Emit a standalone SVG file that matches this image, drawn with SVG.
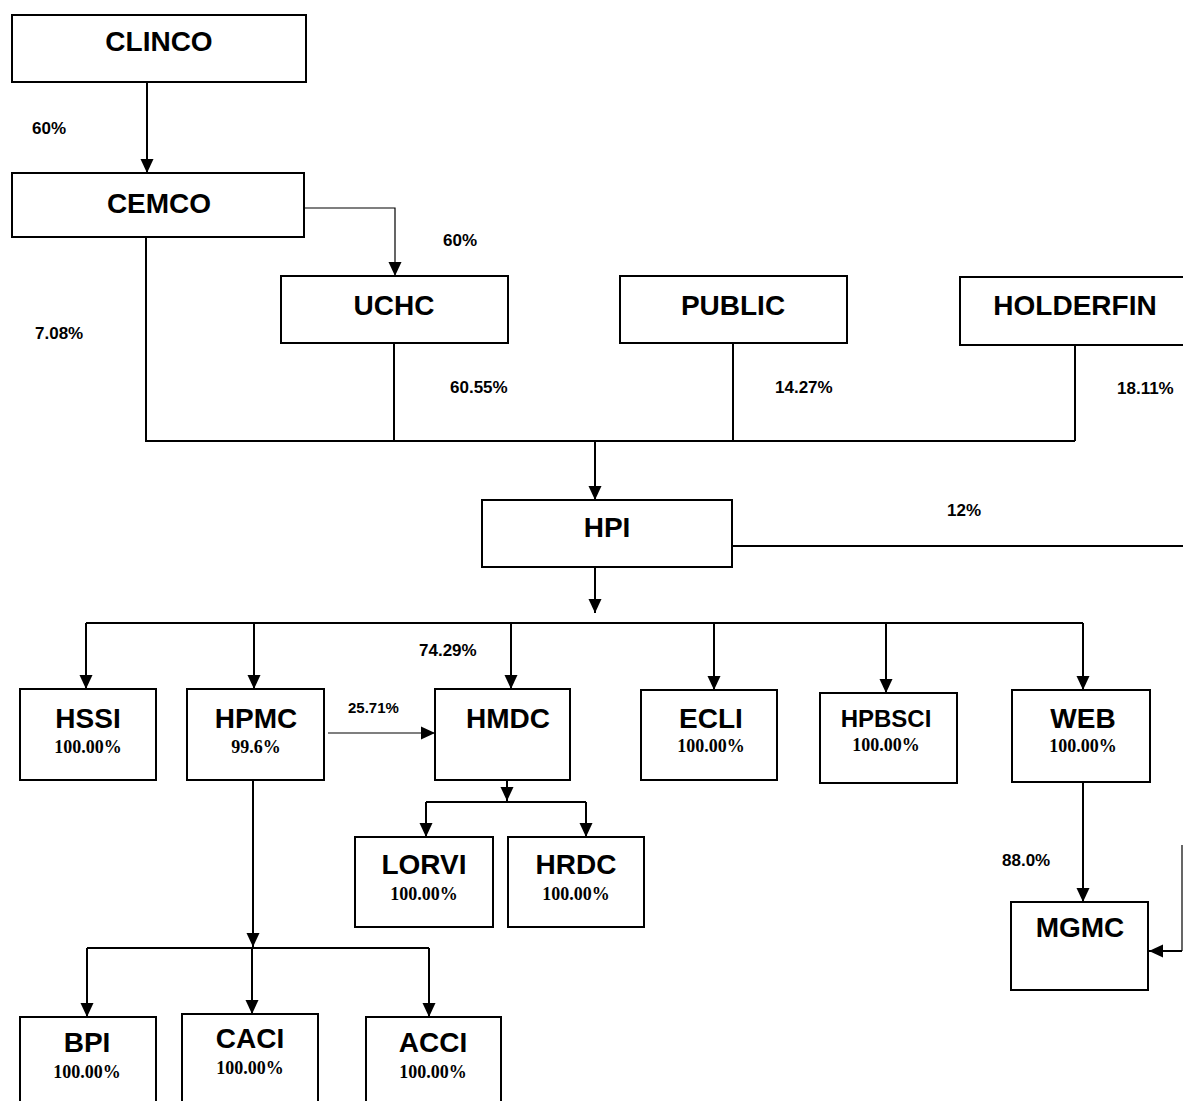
<svg xmlns="http://www.w3.org/2000/svg" width="1183" height="1101" viewBox="0 0 1183 1101">
<style>
.box{fill:#fff;stroke:#000;stroke-width:2}
.t{font-family:"Liberation Sans",Arial,sans-serif;font-weight:bold;font-size:28px;text-anchor:middle;fill:#000}
.ts{font-family:"Liberation Sans",Arial,sans-serif;font-weight:bold;font-size:24px;text-anchor:middle;fill:#000}
.p{font-family:"Liberation Serif","Times New Roman",serif;font-weight:bold;font-size:18px;text-anchor:middle;fill:#000}
.l{font-family:"Liberation Sans",Arial,sans-serif;font-weight:bold;font-size:17px;fill:#000}
.c{fill:none;stroke:#000;stroke-width:2}
.thin{fill:none;stroke:#000;stroke-width:1.2}
.a{marker-end:url(#ah)}
</style>
<defs>
<marker id="ah" markerUnits="userSpaceOnUse" markerWidth="14" markerHeight="14" refX="14" refY="7" orient="auto" viewBox="0 0 14 14">
<path d="M0,0.5 L14,7 L0,13.5 z" fill="#000"/>
</marker>
</defs>
<rect width="1183" height="1101" fill="#fff"/>
<g id="connectors">
<path class="c a" d="M147,82 V173"/>
<path class="thin a" d="M304,208 H395 V276"/>
<path class="c" d="M146,237 V441 H1075"/>
<path class="c" d="M394,343 V441"/>
<path class="c" d="M733,343 V441"/>
<path class="c" d="M1075,345 V441"/>
<path class="c a" d="M595,441 V500"/>
<path class="c" d="M732,546 H1183"/>
<path class="thin" d="M1182,845 V951"/>
<path class="c a" d="M1182,951 H1149"/>
<path class="c a" d="M595,567 V613"/>
<path class="c" d="M86,623 H1083"/>
<path class="c a" d="M86,623 V689"/>
<path class="c a" d="M254,623 V689"/>
<path class="c a" d="M511,623 V689"/>
<path class="c a" d="M714,623 V690"/>
<path class="c a" d="M886,623 V693"/>
<path class="c a" d="M1083,623 V690"/>
<path class="thin a" d="M328,733 H435"/>
<path class="c a" d="M507,780 V801"/>
<path class="c" d="M426,802 H586"/>
<path class="c a" d="M426,802 V837"/>
<path class="c a" d="M586,802 V837"/>
<path class="c a" d="M253,780 V947"/>
<path class="c" d="M87,948 H429"/>
<path class="c a" d="M87,948 V1017"/>
<path class="c a" d="M252,948 V1014"/>
<path class="c a" d="M429,948 V1017"/>
<path class="c a" d="M1083,782 V902"/>
</g>
<g id="labels">
<text class="l" x="32" y="134">60%</text>
<text class="l" x="443" y="246">60%</text>
<text class="l" x="35" y="339">7.08%</text>
<text class="l" x="450" y="393">60.55%</text>
<text class="l" x="775" y="393">14.27%</text>
<text class="l" x="1117" y="394">18.11%</text>
<text class="l" x="947" y="516">12%</text>
<text class="l" x="419" y="656">74.29%</text>
<text class="l" x="348" y="713" style="font-size:15px">25.71%</text>
<text class="l" x="1002" y="866">88.0%</text>
</g>
<g id="CLINCO"><rect class="box" x="12" y="15" width="294" height="67"/><text class="t" x="159" y="51">CLINCO</text></g>
<g id="CEMCO"><rect class="box" x="12" y="173" width="292" height="64"/><text class="t" x="159" y="213">CEMCO</text></g>
<g id="UCHC"><rect class="box" x="281" y="276" width="227" height="67"/><text class="t" x="394" y="315">UCHC</text></g>
<g id="PUBLIC"><rect class="box" x="620" y="276" width="227" height="67"/><text class="t" x="733" y="315">PUBLIC</text></g>
<g id="HOLDERFIN"><rect class="box" x="960" y="277" width="240" height="68"/><text class="t" x="1075" y="315">HOLDERFIN</text></g>
<g id="HPI"><rect class="box" x="482" y="500" width="250" height="67"/><text class="t" x="607" y="537">HPI</text></g>
<g id="HSSI"><rect class="box" x="20" y="689" width="136" height="91"/><text class="t" x="88" y="728">HSSI</text><text class="p" x="88" y="753">100.00%</text></g>
<g id="HPMC"><rect class="box" x="187" y="689" width="137" height="91"/><text class="t" x="256" y="728">HPMC</text><text class="p" x="256" y="753">99.6%</text></g>
<g id="HMDC"><rect class="box" x="435" y="689" width="135" height="91"/><text class="t" x="508" y="728">HMDC</text></g>
<g id="ECLI"><rect class="box" x="641" y="690" width="136" height="90"/><text class="t" x="711" y="728">ECLI</text><text class="p" x="711" y="752">100.00%</text></g>
<g id="HPBSCI"><rect class="box" x="820" y="693" width="137" height="90"/><text class="ts" x="886" y="727">HPBSCI</text><text class="p" x="886" y="751">100.00%</text></g>
<g id="WEB"><rect class="box" x="1012" y="690" width="138" height="92"/><text class="t" x="1083" y="728">WEB</text><text class="p" x="1083" y="752">100.00%</text></g>
<g id="LORVI"><rect class="box" x="355" y="837" width="138" height="90"/><text class="t" x="424" y="874">LORVI</text><text class="p" x="424" y="900">100.00%</text></g>
<g id="HRDC"><rect class="box" x="508" y="837" width="136" height="90"/><text class="t" x="576" y="874">HRDC</text><text class="p" x="576" y="900">100.00%</text></g>
<g id="MGMC"><rect class="box" x="1011" y="902" width="137" height="88"/><text class="t" x="1080" y="937">MGMC</text></g>
<g id="BPI"><rect class="box" x="20" y="1017" width="136" height="100"/><text class="t" x="87" y="1052">BPI</text><text class="p" x="87" y="1078">100.00%</text></g>
<g id="CACI"><rect class="box" x="182" y="1014" width="136" height="100"/><text class="t" x="250" y="1048">CACI</text><text class="p" x="250" y="1074">100.00%</text></g>
<g id="ACCI"><rect class="box" x="366" y="1017" width="135" height="100"/><text class="t" x="433" y="1052">ACCI</text><text class="p" x="433" y="1078">100.00%</text></g>
</svg>
